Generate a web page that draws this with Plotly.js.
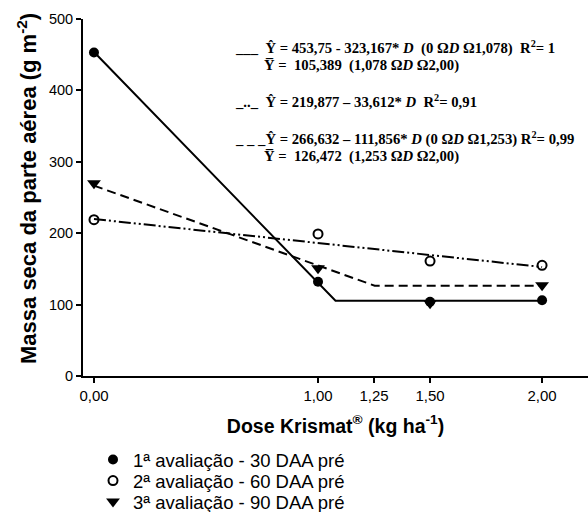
<!DOCTYPE html>
<html><head><meta charset="utf-8">
<script src="https://cdn.plot.ly/plotly-3.0.1.min.js"></script>
<style>html,body{margin:0;padding:0;background:#fff}#c{width:588px;height:512px}</style>
</head><body><div id="c"></div>
<script>
var doses = [0, 1, 1.5, 2];
var aval1 = [453, 132, 104, 106];
var aval2 = [219, 199, 161, 155];
var aval3 = [270, 151, 102, 127];
var fit1X = [0, 1.078, 2];
var fit1Y = [453.75, 105.389, 105.389];
var fit2X = [0, 2];
var fit2Y = [219.877, 152.653];
var fit3X = [0, 1.253, 2];
var fit3Y = [266.632, 126.472, 126.472];
var tickVals = [0, 1, 1.25, 1.5, 2];
var tickText = ["0,00", "1,00", "1,25", "1,50", "2,00"];
var yTicks = [0, 100, 200, 300, 400, 500];
var names = ["1ª avaliação - 30 DAA pré", "2ª avaliação - 60 DAA pré", "3ª avaliação - 90 DAA pré"];

var nb = "\u00A0";
function sp(s){ return s.replace(/ /g, nb); }

var traces = [
  {x: fit1X, y: fit1Y, mode: "lines", line: {color: "#000", width: 2}, showlegend: false, hoverinfo: "skip"},
  {x: fit2X, y: fit2Y, mode: "lines", line: {color: "#000", width: 2, dash: "12px,3px,2px,3px,2px,3px"}, showlegend: false, hoverinfo: "skip"},
  {x: fit3X, y: fit3Y, mode: "lines", line: {color: "#000", width: 2, dash: "9px,5px"}, showlegend: false, hoverinfo: "skip"},
  {x: doses, y: aval1, mode: "markers", name: names[0], legend: "legend", marker: {symbol: "circle", size: 10, color: "#000"}},
  {x: doses, y: aval2, mode: "markers", name: names[1], legend: "legend2", marker: {symbol: "circle-open", size: 9, color: "#000", line: {width: 2, color: "#000"}}},
  {x: doses, y: aval3, mode: "markers", name: names[2], legend: "legend3", marker: {symbol: "triangle-down", size: 12, color: "#000"}}
];

function px2x(p){ return (p - 83) / 505; }
function px2y(p){ return (376 - p) / 357; }
var eqFont = {family: "'Liberation Serif', 'Times New Roman', serif", size: 14.7, color: "#000"};
function ann(txt, xp, yp){
  return {text: "<b>" + sp(txt) + "</b>", x: px2x(xp), y: px2y(yp), xref: "paper", yref: "paper",
          xanchor: "left", yanchor: "middle", showarrow: false, font: eqFont};
}
var annotations = [
  ann("___  Ŷ = 453,75 - 323,167* <i>D</i>  (0 Ω<i>D</i> Ω1,078)  R<sup>2</sup>= 1", 233, 47),
  ann("Y̅ =  105,389  (1,078 Ω<i>D</i> Ω2,00)", 262, 65),
  ann("_.._  Ŷ = 219,877 – 33,612* <i>D</i>  R<sup>2</sup>= 0,91", 233, 101),
  ann("_ _ _Ŷ = 266,632 – 111,856* <i>D</i> (0 Ω<i>D</i> Ω1,253) R<sup>2</sup>= 0,99", 233, 138),
  ann("Y̅ =  126,472  (1,253 Ω<i>D</i> Ω2,00)", 262, 157),
  {text: "<b>Massa seca da parte aérea (g m<sup>-2</sup>)</b>", x: px2x(27), y: px2y(189), xref: "paper", yref: "paper",
   xanchor: "center", yanchor: "middle", textangle: -90, showarrow: false,
   font: {family: "'Liberation Sans', Arial, sans-serif", size: 22, color: "#000"}}
];

function leg(yp){
  return {x: px2x(93), y: px2y(yp), xanchor: "left", yanchor: "middle",
          font: {size: 18.5, family: "'Liberation Sans', Arial, sans-serif", color: "#000"}, bgcolor: "rgba(0,0,0,0)"};
}

var layout = {
  width: 588, height: 512,
  margin: {l: 83, r: 0, t: 19, b: 136, autoexpand: false},
  paper_bgcolor: "#fff", plot_bgcolor: "#fff",
  font: {family: "'Liberation Sans', Arial, sans-serif", color: "#000", size: 12},
  xaxis: {
    range: [-0.049, 2.205], tickvals: tickVals, ticktext: tickText, automargin: false,
    showline: true, linecolor: "#000", linewidth: 2, ticks: "outside", ticklen: 5, tickwidth: 2, tickcolor: "#000",
    showgrid: false, zeroline: false, tickfont: {size: 15},
    title: {text: "<b>Dose Krismat<sup>®</sup> (kg ha<sup>-1</sup>)</b>", font: {size: 19.5}, standoff: 16}
  },
  yaxis: {
    range: [0, 500], tickvals: yTicks, automargin: false,
    showline: true, linecolor: "#000", linewidth: 2, ticks: "outside", ticklen: 5, tickwidth: 2, tickcolor: "#000",
    showgrid: false, zeroline: false, tickfont: {size: 14.5}
  },
  showlegend: true,
  legend: leg(460), legend2: leg(481), legend3: leg(502),
  annotations: annotations
};
Plotly.newPlot("c", traces, layout, {displayModeBar: false, staticPlot: true});
</script></body></html>
